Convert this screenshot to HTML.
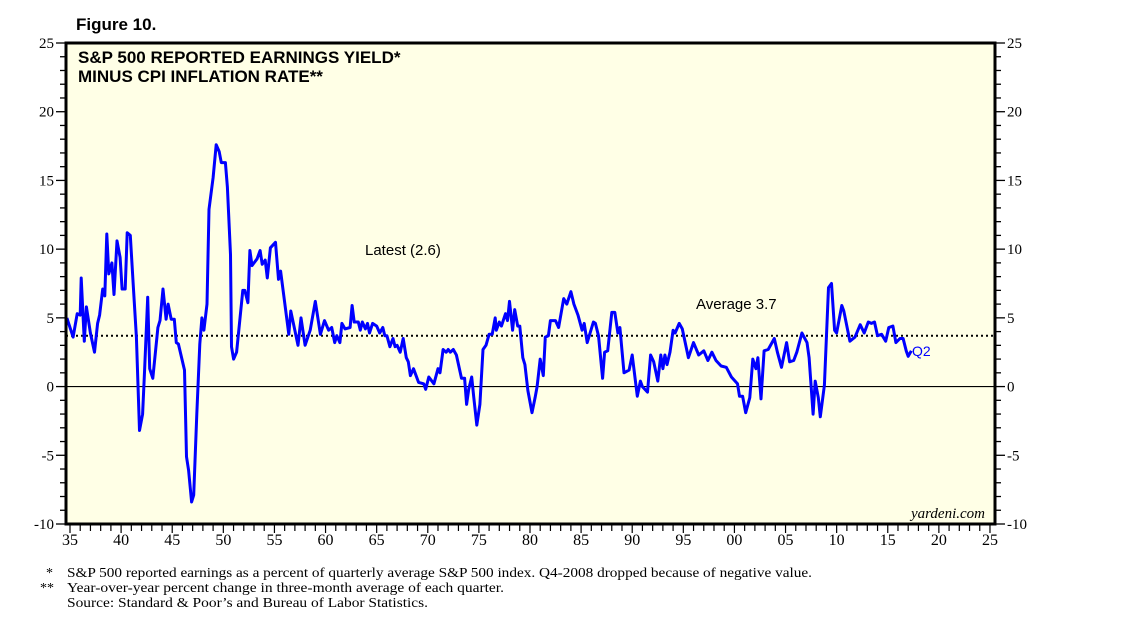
<!DOCTYPE html>
<html><head><meta charset="utf-8"><style>
body{margin:0;background:#fff;width:1138px;height:626px;overflow:hidden}
svg{display:block}
</style></head><body>
<svg id="chart" width="1138" height="626" xmlns="http://www.w3.org/2000/svg" font-family="Liberation Serif, serif">
<text x="76" y="30" font-family="Liberation Sans, sans-serif" font-weight="bold" font-size="17">Figure 10.</text>
<rect x="66" y="43" width="929" height="481" fill="#FFFFE6"/>
<g id="grid"></g>
<g id="series"></g>
<rect x="66" y="43" width="929" height="481" fill="none" stroke="#000" stroke-width="3"/>
<text x="78" y="63" font-family="Liberation Sans, sans-serif" font-weight="bold" font-size="17">S&amp;P 500 REPORTED EARNINGS YIELD*</text>
<text x="78" y="82" font-family="Liberation Sans, sans-serif" font-weight="bold" font-size="17">MINUS CPI INFLATION RATE**</text>
<text x="365" y="255" font-family="Liberation Sans, sans-serif" font-size="15">Latest (2.6)</text>
<text x="696" y="309" font-family="Liberation Sans, sans-serif" font-size="15">Average 3.7</text>
<text x="912" y="356" font-family="Liberation Sans, sans-serif" font-size="14" fill="#0000FF">Q2</text>
<text x="985" y="518" text-anchor="end" font-style="italic" font-size="15">yardeni.com</text>
<g id="axes"></g>
<g font-size="14">
<text x="46" y="577">*</text><text x="67" y="577" textLength="745" lengthAdjust="spacingAndGlyphs">S&amp;P 500 reported earnings as a percent of quarterly average S&amp;P 500 index. Q4-2008 dropped because of negative value.</text>
<text x="40" y="592">**</text><text x="67" y="592" textLength="437" lengthAdjust="spacingAndGlyphs">Year-over-year percent change in three-month average of each quarter.</text>
<text x="67" y="607" textLength="361" lengthAdjust="spacingAndGlyphs">Source: Standard &amp; Poor’s and Bureau of Labor Statistics.</text>
</g>
</svg>
<script>
const years=[1934.7,1935.3,1935.7,1936.0,1936.1,1936.4,1936.6,1937.0,1937.4,1937.7,1937.9,1938.2,1938.4,1938.6,1938.8,1939.1,1939.3,1939.6,1939.9,1940.1,1940.4,1940.6,1940.9,1941.2,1941.5,1941.8,1942.1,1942.3,1942.6,1942.8,1943.1,1943.6,1943.8,1944.1,1944.4,1944.6,1944.9,1945.2,1945.4,1945.6,1946.2,1946.4,1946.6,1946.9,1947.1,1947.4,1947.7,1947.9,1948.1,1948.4,1948.6,1949.0,1949.3,1949.6,1949.8,1950.2,1950.4,1950.7,1950.8,1951.0,1951.3,1951.9,1952.1,1952.4,1952.6,1952.8,1953.3,1953.6,1953.8,1954.1,1954.3,1954.6,1955.1,1955.4,1955.6,1956.4,1956.6,1957.3,1957.6,1958.0,1958.5,1959.0,1959.5,1959.9,1960.3,1960.6,1960.9,1961.1,1961.4,1961.6,1961.9,1962.4,1962.6,1962.8,1963.2,1963.4,1963.6,1963.9,1964.1,1964.3,1964.6,1965.0,1965.3,1965.6,1965.8,1966.0,1966.3,1966.6,1966.8,1967.0,1967.3,1967.6,1967.9,1968.1,1968.3,1968.6,1969.1,1969.6,1969.8,1970.1,1970.6,1971.0,1971.2,1971.5,1971.8,1972.0,1972.2,1972.5,1972.8,1973.3,1973.6,1973.8,1974.0,1974.3,1974.5,1974.8,1975.1,1975.4,1975.7,1976.0,1976.3,1976.6,1976.7,1977.0,1977.2,1977.6,1977.8,1978.0,1978.3,1978.5,1978.8,1979.0,1979.3,1979.5,1979.8,1980.2,1980.5,1980.7,1981.0,1981.3,1981.5,1981.8,1982.0,1982.5,1982.8,1983.3,1983.6,1984.0,1984.3,1984.7,1985.1,1985.3,1985.6,1986.2,1986.4,1986.7,1987.1,1987.3,1987.6,1988.0,1988.3,1988.6,1988.8,1989.2,1989.7,1990.0,1990.5,1990.8,1991.0,1991.5,1991.8,1992.1,1992.5,1992.8,1993.0,1993.2,1993.4,1993.7,1994.0,1994.2,1994.6,1994.9,1995.5,1996.0,1996.5,1997.0,1997.4,1997.8,1998.2,1998.7,1999.2,1999.7,2000.3,2000.5,2000.8,2001.1,2001.5,2001.8,2002.1,2002.3,2002.6,2002.9,2003.3,2003.9,2004.2,2004.6,2005.1,2005.4,2005.8,2006.1,2006.6,2007.1,2007.3,2007.7,2007.9,2008.2,2008.4,2008.8,2009.2,2009.5,2009.8,2010.0,2010.5,2010.7,2011.3,2011.8,2012.3,2012.7,2013.1,2013.4,2013.7,2014.0,2014.4,2014.8,2015.1,2015.5,2015.8,2016.2,2016.5,2016.8,2017.0,2017.3];
const values=[5.0,3.6,5.3,5.2,7.9,3.3,5.8,3.9,2.5,4.6,5.2,7.1,6.6,11.1,8.2,9.0,6.7,10.6,9.4,7.1,7.1,11.2,11.0,7.2,3.6,-3.2,-2.0,1.2,6.5,1.3,0.6,4.3,4.8,7.1,4.9,6.0,4.9,4.9,3.2,3.1,1.2,-5.1,-6.1,-8.4,-7.9,-2.0,3.1,5.0,4.1,6.0,12.9,15.2,17.6,17.1,16.3,16.3,14.5,9.6,2.9,2.0,2.5,7.0,7.0,6.1,9.9,8.8,9.3,9.9,8.9,9.2,7.9,10.1,10.5,7.8,8.4,3.8,5.5,3.0,5.0,3.0,4.1,6.2,3.8,4.8,4.1,4.3,3.2,3.7,3.2,4.6,4.2,4.3,5.9,4.7,4.7,4.1,4.7,4.2,4.6,3.9,4.6,4.4,3.9,4.3,3.7,3.7,2.9,3.5,2.9,3.0,2.5,3.5,2.1,1.8,0.8,1.3,0.3,0.2,-0.2,0.7,0.2,1.3,1.0,2.7,2.5,2.7,2.5,2.7,2.3,0.6,0.6,-1.3,-0.2,0.7,-0.8,-2.8,-1.3,2.7,3.0,3.8,3.8,5.0,4.1,4.7,4.4,5.3,4.8,6.2,4.1,5.6,4.4,4.4,2.1,1.6,-0.3,-1.9,-0.8,0.0,2.0,0.8,3.6,3.7,4.8,4.8,4.3,6.4,6.0,6.9,6.0,5.2,4.1,4.6,3.2,4.7,4.6,3.7,0.6,2.5,2.6,5.4,5.4,3.9,4.3,1.0,1.2,2.3,-0.7,0.4,0.0,-0.4,2.3,1.8,0.4,2.3,1.3,2.3,1.6,2.5,4.1,3.9,4.6,4.2,2.1,3.2,2.3,2.6,1.9,2.5,1.9,1.5,1.4,0.7,0.2,-0.7,-0.7,-1.9,-0.8,2.0,1.3,2.1,-0.9,2.6,2.7,3.5,2.5,1.4,3.2,1.8,1.9,2.5,3.9,3.2,2.1,-2.0,0.4,-0.8,-2.2,0.1,7.2,7.5,4.1,3.9,5.9,5.5,3.3,3.6,4.5,3.9,4.7,4.6,4.7,3.7,3.8,3.3,4.3,4.4,3.2,3.5,3.5,2.6,2.2,2.6];
const average=[3.7];
const yTicks=[25,20,15,10,5,0,-5,-10];
const xTickLabels=["35","40","45","50","55","60","65","70","75","80","85","90","95","00","05","10","15","20","25"];
const xTickYears=[1935,1940,1945,1950,1955,1960,1965,1970,1975,1980,1985,1990,1995,2000,2005,2010,2015,2020,2025];

const NS="http://www.w3.org/2000/svg";
const X0=66,X1=995,Y0=43,Y1=524;
function xs(yr){return 70+(yr-1935)*10.222;}
function ys(v){return Y0+(25-v)*(Y1-Y0)/35;}
function mk(tag,attrs,parent){const e=document.createElementNS(NS,tag);for(const k in attrs)e.setAttribute(k,attrs[k]);parent.appendChild(e);return e;}
const grid=document.getElementById('grid'),axes=document.getElementById('axes'),series=document.getElementById('series');

let z=mk('line',{x1:X0,x2:X1,y1:ys(0),y2:ys(0),stroke:'#000','stroke-width':1.2},grid);


let av=mk('line',{x1:X0,x2:X1,y1:ys(average[0]),y2:ys(average[0]),stroke:'#000','stroke-width':2,'stroke-dasharray':'2,3'},grid);



let d='';
years.forEach((y,i)=>{d+=(i?'L':'M')+xs(y).toFixed(1)+','+ys(values[i]).toFixed(1);});
let p=mk('path',{d:d,fill:'none',stroke:'#0000FF','stroke-width':3,'stroke-linejoin':'round'},series);



for(let v=-10;v<=25;v++){
  const maj=v%5===0,y=ys(v);
  let t1=mk('line',{x1:X0-(maj?10:6),x2:X0,y1:y,y2:y,stroke:'#000','stroke-width':1.3},axes);
  
  
  let t2=mk('line',{x1:X1,x2:X1+(maj?10:6),y1:y,y2:y,stroke:'#000','stroke-width':1.3},axes);
  
  
}
yTicks.forEach(v=>{
  const y=ys(v)+5;
  let a=mk('text',{x:X0-12,y:y,'text-anchor':'end','font-size':15},axes);a.textContent=v;
  
  
  let b=mk('text',{x:X1+12,y:y,'font-size':15},axes);b.textContent=v;
  
  
});
for(let yr=1935;yr<=2025;yr++){
  const x=xs(yr),maj=yr%5===0;
  let t=mk('line',{x1:x,x2:x,y1:Y1,y2:Y1+(maj?9:7),stroke:'#000','stroke-width':1.2},axes);
  
  
}
xTickYears.forEach((yr,i)=>{
  let t=mk('text',{x:xs(yr),y:545,'text-anchor':'middle','font-size':16},axes);t.textContent=xTickLabels[i];
  
  
});
</script>
</body></html>
